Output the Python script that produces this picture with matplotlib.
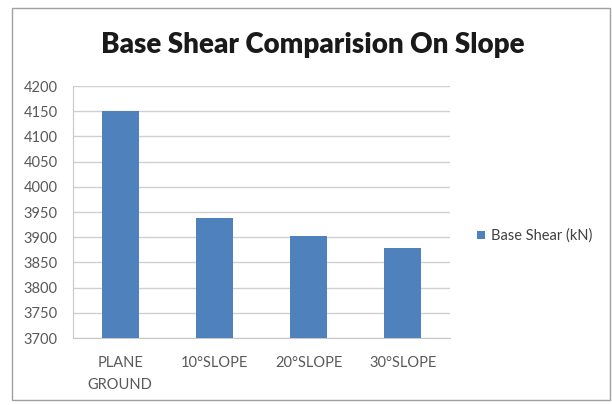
import matplotlib.pyplot as plt
from matplotlib.patches import Rectangle

categories = ["PLANE\nGROUND", "10°SLOPE", "20°SLOPE", "30°SLOPE"]
base_shear = [4150, 3939, 3902, 3879]
yticks = list(range(3700, 4201, 50))

plt.rcParams['font.family'] = ['Lato', 'DejaVu Sans']

fig = plt.figure(figsize=(6.12, 4.05), dpi=100)
W, H = 612, 405
ax = fig.add_axes([73 / W, 1 - 338 / H, 377 / W, 252 / H])

ax.bar(range(len(categories)), base_shear, width=0.39, color="#4F81BD",
       label="Base Shear (kN)", zorder=3)
ax.set_xlim(-0.5, len(categories) - 0.5)
ax.set_ylim(3700, 4200)
ax.set_yticks(yticks)
ax.set_xticks(range(len(categories)))
ax.set_xticklabels(categories, linespacing=1.7)
ax.tick_params(axis='both', length=0, labelsize=10.5, colors="#595959")
ax.tick_params(axis='y', pad=11)
ax.tick_params(axis='x', pad=13)
ax.grid(axis='y', color="#D0D0D0", linewidth=1, zorder=0)
for s in ['top', 'right']:
    ax.spines[s].set_visible(False)
for s in ['left', 'bottom']:
    ax.spines[s].set_color("#C8C8C8")

fig.text(313 / W, 1 - 45 / H, "Base Shear Comparision On Slope",
         ha='center', va='center', fontsize=20, fontweight='heavy', color="#1a1a1a")

leg = fig.legend(loc='center left', bbox_to_anchor=(464 / W, 1 - 236 / H),
                 frameon=False, fontsize=10.5, handlelength=0.55, handleheight=0.55,
                 handletextpad=0.4)
for t in leg.get_texts():
    t.set_color("#404040")

# chart border
fig.patches.append(Rectangle((12 / W, 1 - 400 / H), 598 / W, 392 / H,
                             transform=fig.transFigure, fill=False,
                             edgecolor="#A0A0A0", linewidth=1))

fig.savefig("out.png", dpi=100)
